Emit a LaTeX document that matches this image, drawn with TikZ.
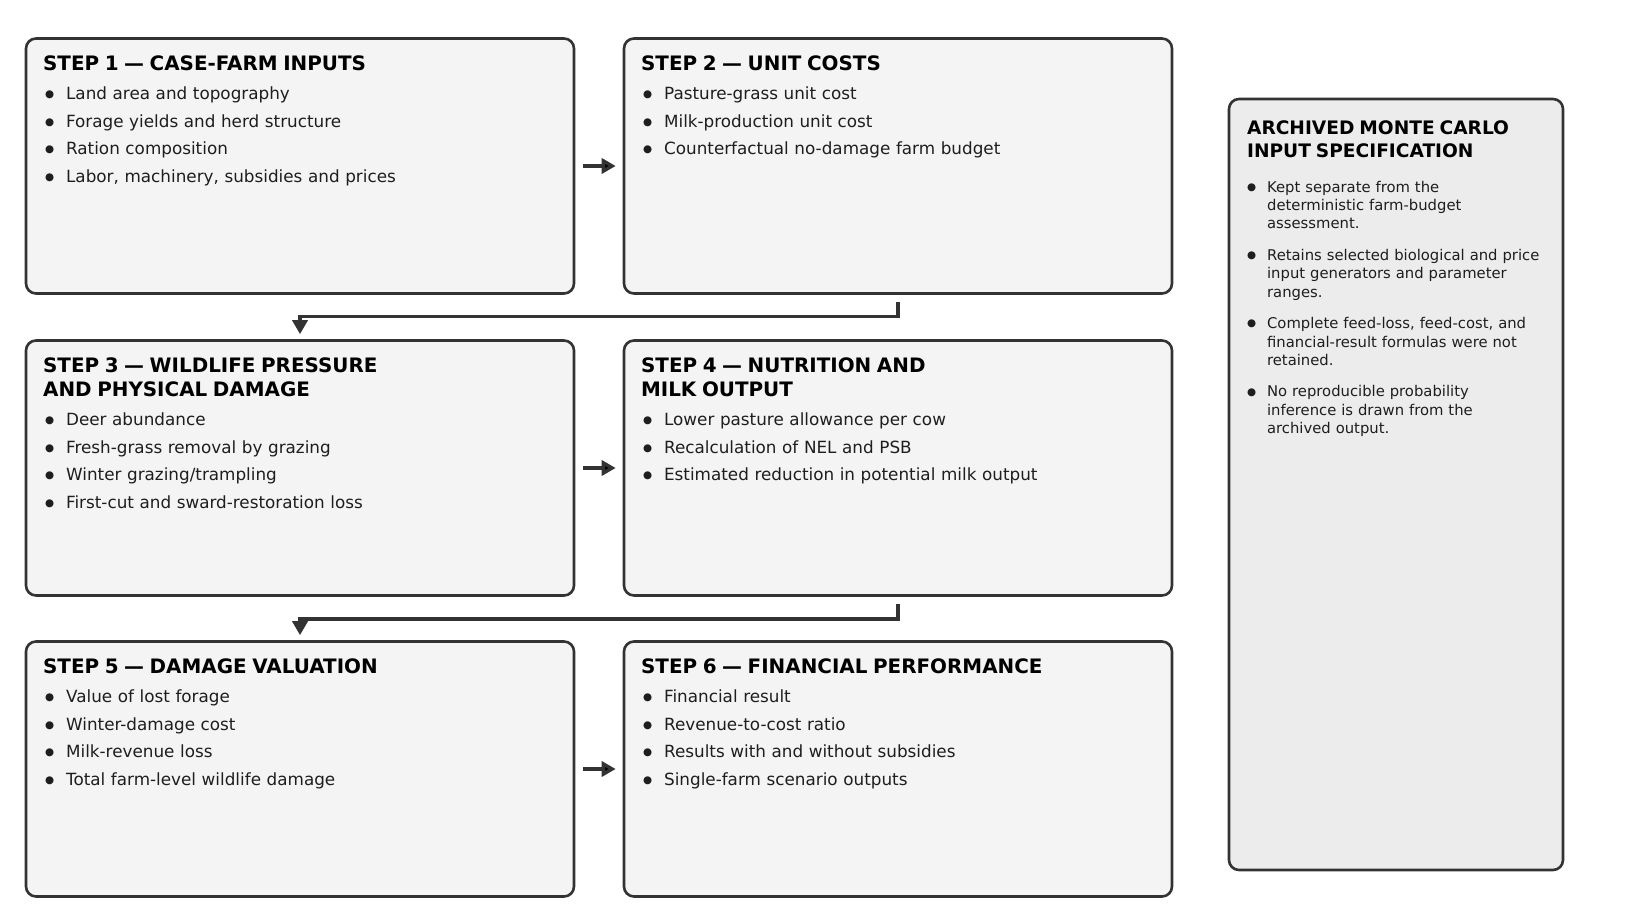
\documentclass[tikz,border=0pt]{standalone}
\usepackage{fontspec}
\setmainfont{DejaVu Sans}
\usetikzlibrary{arrows.meta}

\definecolor{boxfill}{HTML}{F4F4F4}
\definecolor{sidefill}{HTML}{ECECEC}
\definecolor{boxline}{HTML}{333333}
\definecolor{flowline}{HTML}{333333}
\definecolor{bodytext}{HTML}{1E1E1E}

\newcommand\stepfont{\fontsize{9.95}{12}\bfseries\selectfont}
\newcommand\bodyfont{\fontsize{8.4}{13.75}\selectfont}
\newcommand\sidehead{\fontsize{9.3}{11.5}\bfseries\selectfont}
\newcommand\sidefont{\fontsize{7.4}{9.15}\selectfont}
\newcommand\dotmark{\raisebox{0.9pt}{\fontsize{5.2}{0}\selectfont ●}}
\newcommand\nl{\hfil\break}
\newcommand\steptitle[1]{{\noindent\stepfont\color{black}#1\par}\vspace{1.1pt}}
\newcommand\bul{\par\noindent\hangindent=11.5pt\hangafter=1\makebox[11.5pt][l]{\hspace{1pt}\dotmark}}
\newcommand\sbul{\par\noindent\hangindent=10pt\hangafter=1\makebox[10pt][l]{\dotmark}}

\tikzset{
	stepbox/.style={draw=boxline, line width=1.3pt, rounded corners=5pt, fill=boxfill,
		minimum width=274pt, minimum height=127.5pt, inner sep=0pt},
	sidebox/.style={stepbox, fill=sidefill, minimum width=167pt, minimum height=385.5pt},
	steptext/.style={anchor=north west, inner sep=0pt, text width=262pt, align=left,
		font=\bodyfont, text=bodytext},
	sidetext/.style={anchor=north west, inner sep=0pt, text width=155pt, align=left,
		font=\sidefont, text=bodytext},
	flow/.style={draw=flowline, line width=1.7pt, -{Triangle[length=7pt,width=7.5pt]}},
}

\begin{document}
\begin{tikzpicture}[x=0.5pt, y=-0.5pt]
		\fill[white] (0,0) rectangle (1626,919);
		\useasboundingbox (0,0) rectangle (1626,919);

		% step boxes
		\node[stepbox] (s1) at (300,166) {};
		\node[stepbox] (s2) at (898,166) {};
		\node[stepbox] (s3) at (300,468) {};
		\node[stepbox] (s4) at (898,468) {};
		\node[stepbox] (s5) at (300,769) {};
		\node[stepbox] (s6) at (898,769) {};
		\node[sidebox] (mc) at (1396,484.5) {};

		% box contents
		\node[steptext] (s1txt) at ([shift={(9pt,-8.85pt)}]s1.north west) {%
			\steptitle{STEP 1 — CASE-FARM INPUTS}
			\bul Land area and topography
			\bul Forage yields and herd structure
			\bul Ration composition
			\bul Labor, machinery, subsidies and prices\par};
		\node[steptext] (s2txt) at ([shift={(9pt,-8.85pt)}]s2.north west) {%
			\steptitle{STEP 2 — UNIT COSTS}
			\bul Pasture-grass unit cost
			\bul Milk-production unit cost
			\bul Counterfactual no-damage farm budget\par};
		\node[steptext] (s3txt) at ([shift={(9pt,-8.85pt)}]s3.north west) {%
			\steptitle{STEP 3 — WILDLIFE PRESSURE\nl AND PHYSICAL DAMAGE}
			\bul Deer abundance
			\bul Fresh-grass removal by grazing
			\bul Winter grazing/trampling
			\bul First-cut and sward-restoration loss\par};
		\node[steptext] (s4txt) at ([shift={(9pt,-8.85pt)}]s4.north west) {%
			\steptitle{STEP 4 — NUTRITION AND\nl MILK OUTPUT}
			\bul Lower pasture allowance per cow
			\bul Recalculation of NEL and PSB
			\bul Estimated reduction in potential milk output\par};
		\node[steptext] (s5txt) at ([shift={(9pt,-8.85pt)}]s5.north west) {%
			\steptitle{STEP 5 — DAMAGE VALUATION}
			\bul Value of lost forage
			\bul Winter-damage cost
			\bul Milk-revenue loss
			\bul Total farm-level wildlife damage\par};
		\node[steptext] (s6txt) at ([shift={(9pt,-8.85pt)}]s6.north west) {%
			\steptitle{STEP 6 — FINANCIAL PERFORMANCE}
			\bul Financial result
			\bul Revenue-to-cost ratio
			\bul Results with and without subsidies
			\bul Single-farm scenario outputs\par};
		\node[sidetext] (mctxt) at ([shift={(9.5pt,-11.2pt)}]mc.north west) {%
			{\noindent\sidehead\color{black}ARCHIVED MONTE CARLO\nl INPUT SPECIFICATION\par}
			\vspace{8.35pt}
			\sbul Kept separate from the\nl deterministic farm-budget\nl assessment.\par
			\vspace{6.65pt}
			\sbul Retains selected biological and price\nl input generators and parameter\nl ranges.\par
			\vspace{6.65pt}
			\sbul Complete feed-loss, feed-cost, and\nl financial-result formulas were not\nl retained.\par
			\vspace{6.65pt}
			\sbul No reproducible probability\nl inference is drawn from the\nl archived output.\par};

		% flow between steps
		\path[flow, shorten <=4pt, shorten >=3.5pt] (s1) edge (s2);
		\path[flow, shorten <=4pt, shorten >=3.5pt] (s3) edge (s4);
		\path[flow, shorten <=4pt, shorten >=3.5pt] (s5) edge (s6);
		\draw[flow, shorten <=3.5pt, shorten >=2.5pt] (s2.south) -- ++(0,22) -| (s3.north);
		\draw[flow, shorten <=3.5pt, shorten >=2.5pt] (s4.south) -- ++(0,22) -| (s5.north);
	\end{tikzpicture}
\end{document}
